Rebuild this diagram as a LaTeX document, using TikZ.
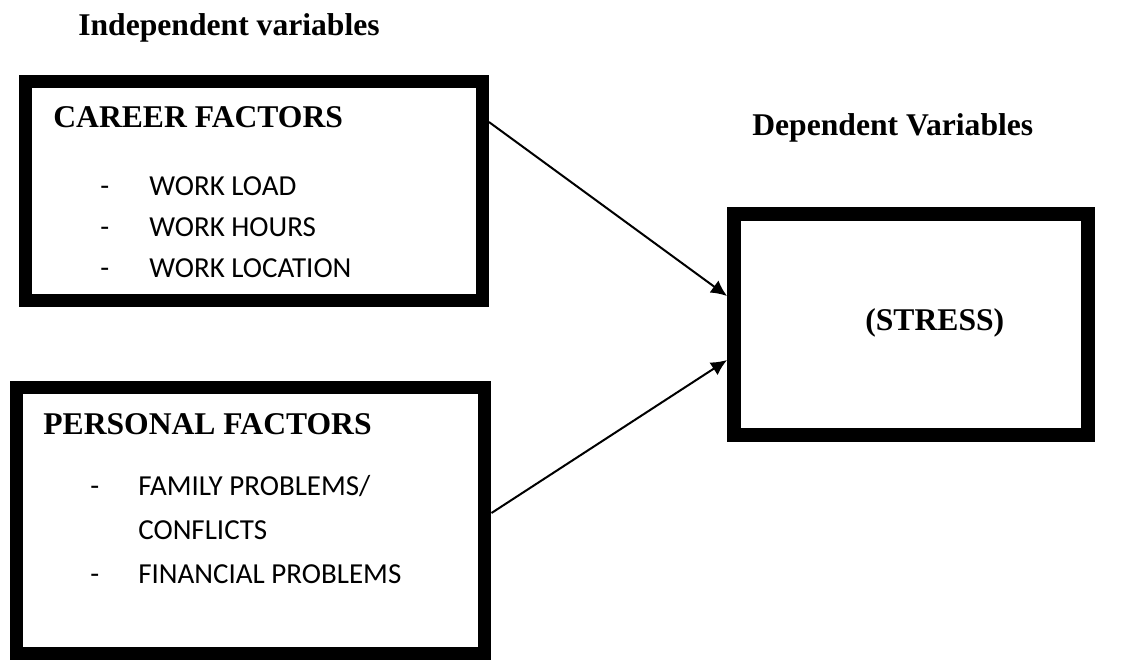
\documentclass[tikz,border=0pt]{standalone}
\usepackage{fontspec}
\setmainfont{Liberation Serif}
\newfontfamily\calib{Carlito}
\usetikzlibrary{calc,arrows.meta}

\begin{document}
\begin{tikzpicture}[x=0.02cm,y=-0.02cm]
\tikzstyle{box}=[rectangle,draw=black,line width=0.26cm,inner sep=0pt]
\tikzstyle{head}=[anchor=base west,inner sep=0pt,font=\fontsize{18}{20}\selectfont\bfseries]
\tikzstyle{item}=[anchor=base west,inner sep=0pt,font=\fontsize{16.5}{19}\selectfont\calib]
\tikzstyle{connect}=[-{Latex[length=3.2mm,width=3mm]}, line width=0.04cm]

	\useasboundingbox (0,0) rectangle (1141,659);

	\node[box,minimum width=9.14cm,minimum height=4.39cm] (career) at (254,190.75) {};
	\node[box,minimum width=9.38cm,minimum height=5.34cm] (personal) at (250.5,520.5) {};
	\node[box,line width=0.28cm,minimum width=7.08cm,minimum height=4.43cm] (stress) at (911,324.75) {};

	\node[head] (indep) at (78,35) {Independent variables};
	\node[head] (dep) at (752,135) {Dependent Variables};

	\node[head] (careert) at (53,127) {CAREER FACTORS};
	\node[item] (d1) at (100,195) {-};
	\node[item] (c1) at (149,195) {WORK LOAD};
	\node[item] (d2) at (100,236) {-};
	\node[item] (c2) at (149,236) {WORK HOURS};
	\node[item] (d3) at (100,277) {-};
	\node[item] (c3) at (149,277) {WORK LOCATION};

	\node[head] (personalt) at (43,434) {PERSONAL FACTORS};
	\node[item] (d4) at (90,495) {-};
	\node[item] (p1) at (138,495) {FAMILY PROBLEMS/};
	\node[item] (p2) at (138,539) {CONFLICTS};
	\node[item] (d5) at (90,583) {-};
	\node[item] (p3) at (138,583) {FINANCIAL PROBLEMS};

	\node[head] (stresst) at (865,330) {(STRESS)};

	\coordinate (cout) at ($(career.north east)+(0,47.5)$);
	\coordinate (pout) at ($(personal.north east)+(0,132.5)$);
	\coordinate (sin1) at ($(stress.north west)+(0,89)$);
	\coordinate (sin2) at ($(stress.north west)+(0,153)$);

	\path[connect]
		(cout) edge [] (sin1)
		(pout) edge [] (sin2);

\end{tikzpicture}
\end{document}
